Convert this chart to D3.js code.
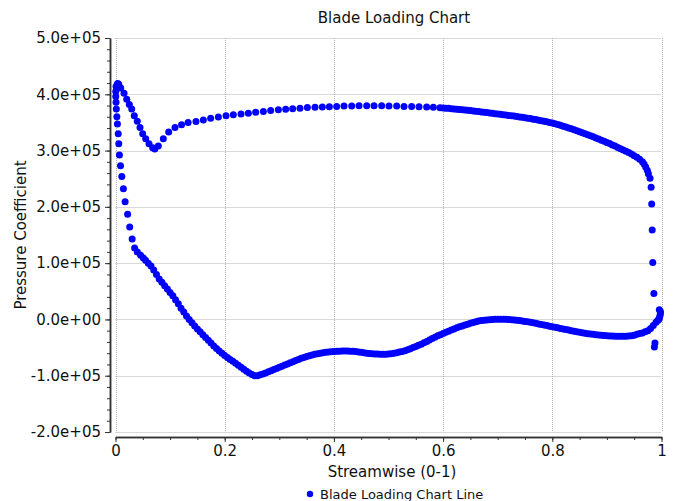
<!DOCTYPE html>
<html>
<head>
<meta charset="utf-8">
<script src="https://cdn.jsdelivr.net/npm/d3@7"></script>
<style>
  body { margin: 0; background: #fff; }
  svg { display: block; font-family: "DejaVu Sans", Verdana, sans-serif; }
</style>
</head>
<body>
<svg width="681" height="501"></svg>
<script>
// pressure values are in units of 1e5
// leading edge: peak and the column that drops down along x ~ 0
const leX = [0.003, 0.006, 0.004, 0.001, 0.0005, 0.0005, 0.001, 0.0015, 0.0025, 0.0035, 0.005, 0.006, 0.0072, 0.0092, 0.0116, 0.0145, 0.0176, 0.0222, 0.026, 0.0305, 0.035, 0.040, 0.046, 0.051, 0.055]
const leP = [4.17, 4.18, 4.19, 4.14, 4.05, 3.96, 3.86, 3.74, 3.60, 3.47, 3.30, 3.12, 2.92, 2.73, 2.54, 2.32, 2.09, 1.87, 1.64, 1.43, 1.27, 1.20, 1.14, 1.09, 1.05]

// upper curve, from the peak towards x ~ 0.6 (spaced dots)
const upX = [0.0095, 0.0156, 0.0205, 0.0253, 0.0297, 0.0344, 0.0399, 0.0449, 0.0498, 0.0553, 0.0614, 0.0681, 0.072, 0.0784, 0.0876, 0.0974, 0.109, 0.121, 0.133,
  0.1474, 0.1609, 0.1743, 0.1884, 0.2024, 0.2158, 0.2299, 0.2433, 0.2567, 0.2708, 0.2842, 0.2983, 0.3117, 0.3245, 0.3379, 0.3514, 0.3654, 0.3788, 0.3917,
  0.4051, 0.4185, 0.4326, 0.4460, 0.4601, 0.4735, 0.4875, 0.5009, 0.5150, 0.5284, 0.5424, 0.5559, 0.5699, 0.5821, 0.5943]
const upP = [4.11, 4.02, 3.91, 3.82, 3.74, 3.62, 3.52, 3.41, 3.30, 3.21, 3.12, 3.05, 3.03, 3.08, 3.21, 3.33, 3.41, 3.46, 3.50,
  3.515, 3.545, 3.575, 3.595, 3.62, 3.635, 3.65, 3.665, 3.68, 3.695, 3.71, 3.725, 3.733, 3.745, 3.75, 3.765, 3.768, 3.775, 3.78,
  3.785, 3.792, 3.792, 3.795, 3.795, 3.795, 3.795, 3.792, 3.792, 3.785, 3.785, 3.78, 3.775, 3.768, 3.76]

// upper curve, dense part towards the trailing edge
const upAftX = [0.600, 0.605, 0.610, 0.615, 0.620, 0.625, 0.630, 0.635, 0.640, 0.645, 0.650, 0.655, 0.660, 0.665, 0.670, 0.675, 0.680, 0.685, 0.690, 0.695,
  0.700, 0.705, 0.710, 0.715, 0.720, 0.725, 0.730, 0.735, 0.740, 0.745, 0.750, 0.755, 0.760, 0.765, 0.770, 0.775, 0.780, 0.785, 0.790, 0.795,
  0.800, 0.805, 0.810, 0.815, 0.820, 0.825, 0.830, 0.835, 0.840, 0.845, 0.850, 0.855, 0.860, 0.865, 0.870, 0.875, 0.880, 0.885, 0.890, 0.895,
  0.900, 0.905, 0.910, 0.915, 0.920, 0.925, 0.930, 0.935, 0.940, 0.945, 0.950, 0.955, 0.960, 0.965, 0.968, 0.971, 0.974, 0.976]
const upAftP = [3.757, 3.754, 3.75, 3.745, 3.74, 3.735, 3.73, 3.725, 3.72, 3.715, 3.71, 3.705, 3.70, 3.693, 3.686, 3.68, 3.675, 3.668, 3.662, 3.656,
  3.65, 3.644, 3.638, 3.632, 3.625, 3.618, 3.612, 3.605, 3.598, 3.59, 3.583, 3.576, 3.568, 3.558, 3.55, 3.54, 3.53, 3.52, 3.51, 3.50,
  3.49, 3.478, 3.463, 3.448, 3.433, 3.418, 3.403, 3.388, 3.37, 3.353, 3.335, 3.318, 3.30, 3.283, 3.265, 3.245, 3.225, 3.205, 3.185, 3.165,
  3.145, 3.125, 3.10, 3.08, 3.055, 3.033, 3.01, 2.99, 2.965, 2.94, 2.91, 2.88, 2.845, 2.80, 2.76, 2.71, 2.65, 2.59]

// trailing edge
const teX = [0.979, 0.981, 0.982, 0.983, 0.984, 0.986, 0.996, 0.998, 0.998, 0.997, 0.996, 0.993, 0.988, 0.987]
const teP = [2.51, 2.35, 2.05, 1.59, 1.01, 0.46, 0.17, 0.14, 0.10, 0.06, 0.02, -0.02, -0.42, -0.49]

// lower curve
const loX = [0.060, 0.065, 0.070, 0.075, 0.080, 0.085, 0.090, 0.095, 0.100, 0.105, 0.110, 0.115, 0.120, 0.125, 0.130, 0.135, 0.140, 0.145, 0.150, 0.155,
  0.160, 0.165, 0.170, 0.175, 0.180, 0.185, 0.190, 0.195, 0.200, 0.205, 0.210, 0.215, 0.220, 0.225, 0.230, 0.235, 0.240, 0.245, 0.250, 0.255,
  0.260, 0.265, 0.270, 0.275, 0.280, 0.285, 0.290, 0.295, 0.300, 0.305, 0.310, 0.315, 0.320, 0.325, 0.330, 0.335, 0.340, 0.345, 0.350, 0.355,
  0.360, 0.365, 0.370, 0.375, 0.380, 0.385, 0.390, 0.395, 0.400, 0.405, 0.410, 0.415, 0.420, 0.425, 0.430, 0.435, 0.440, 0.445, 0.450, 0.455,
  0.460, 0.465, 0.470, 0.475, 0.480, 0.485, 0.490, 0.495, 0.500, 0.505, 0.510, 0.515, 0.520, 0.525, 0.530, 0.535, 0.540, 0.545, 0.550, 0.555,
  0.560, 0.565, 0.570, 0.575, 0.580, 0.585, 0.590, 0.595, 0.600, 0.605, 0.610, 0.615, 0.620, 0.625, 0.630, 0.635, 0.640, 0.645, 0.650, 0.655,
  0.660, 0.665, 0.670, 0.675, 0.680, 0.685, 0.690, 0.695, 0.700, 0.705, 0.710, 0.715, 0.720, 0.725, 0.730, 0.735, 0.740, 0.745, 0.750, 0.755,
  0.760, 0.765, 0.770, 0.775, 0.780, 0.785, 0.790, 0.795, 0.800, 0.805, 0.810, 0.815, 0.820, 0.825, 0.830, 0.835, 0.840, 0.845, 0.850, 0.855,
  0.860, 0.865, 0.870, 0.875, 0.880, 0.885, 0.890, 0.895, 0.900, 0.905, 0.910, 0.915, 0.920, 0.925, 0.930, 0.935, 0.940, 0.945, 0.950, 0.955,
  0.960, 0.965, 0.970, 0.975, 0.980, 0.985, 0.990, 0.995]
const loP = [1.00, 0.95, 0.88, 0.80, 0.72, 0.66, 0.60, 0.54, 0.48, 0.42, 0.35, 0.28, 0.20, 0.13, 0.06, 0.00, -0.06, -0.115, -0.17, -0.22,
  -0.27, -0.32, -0.37, -0.42, -0.47, -0.515, -0.56, -0.60, -0.64, -0.675, -0.71, -0.745, -0.78, -0.815, -0.85, -0.885, -0.92, -0.95, -0.98, -1.00,
  -1.00, -0.985, -0.97, -0.95, -0.93, -0.91, -0.89, -0.87, -0.85, -0.83, -0.81, -0.79, -0.77, -0.75, -0.73, -0.71, -0.69, -0.675, -0.66, -0.645,
  -0.63, -0.62, -0.61, -0.60, -0.59, -0.585, -0.58, -0.575, -0.57, -0.567, -0.565, -0.562, -0.56, -0.562, -0.565, -0.567, -0.57, -0.578, -0.585, -0.593,
  -0.60, -0.605, -0.61, -0.613, -0.615, -0.618, -0.62, -0.618, -0.615, -0.608, -0.60, -0.59, -0.58, -0.568, -0.555, -0.538, -0.52, -0.50, -0.48, -0.46,
  -0.44, -0.415, -0.39, -0.365, -0.34, -0.315, -0.29, -0.27, -0.25, -0.23, -0.21, -0.19, -0.17, -0.15, -0.13, -0.115, -0.10, -0.085, -0.07, -0.055,
  -0.04, -0.03, -0.02, -0.015, -0.01, -0.005, 0.0, 0.003, 0.005, 0.005, 0.005, 0.003, 0.0, -0.005, -0.01, -0.015, -0.02, -0.028, -0.035, -0.043,
  -0.05, -0.06, -0.07, -0.08, -0.09, -0.10, -0.11, -0.12, -0.13, -0.14, -0.15, -0.16, -0.17, -0.18, -0.19, -0.20, -0.21, -0.22, -0.23, -0.238,
  -0.245, -0.253, -0.26, -0.265, -0.27, -0.275, -0.28, -0.285, -0.29, -0.293, -0.295, -0.298, -0.30, -0.30, -0.30, -0.298, -0.295, -0.288, -0.28, -0.265,
  -0.25, -0.24, -0.22, -0.20, -0.16, -0.11, -0.05, 0.0]

const xTicks = [0, 0.2, 0.4, 0.6, 0.8, 1]
const xTickLabels = ['0', '0.2', '0.4', '0.6', '0.8', '1']
const yTicks = [-2e5, -1e5, 0, 1e5, 2e5, 3e5, 4e5, 5e5]
const yTickLabels = ['-2.0e+05', '-1.0e+05', '0.0e+00', '1.0e+05', '2.0e+05', '3.0e+05', '4.0e+05', '5.0e+05']

const svg = d3.select('svg')

const margin = { top: 38, right: 19.5, bottom: 69, left: 115.5 }
const width = 681, height = 501
const x_scale = d3.scaleLinear().domain([0, 1]).range([margin.left, width - margin.right])
const y_scale = d3.scaleLinear().domain([-2e5, 5e5]).range([height - margin.bottom, margin.top])

const points = []
const addSeg = (xs, ps) => xs.forEach((v, i) => points.push({ x: v, p: ps[i] * 1e5 }))
addSeg(leX, leP)
addSeg(upX, upP)
addSeg(upAftX, upAftP)
addSeg(teX, teP)
addSeg(loX, loP)

// dotted grid
const grid = svg.append('g').attr('stroke', '#b0b0b0').attr('stroke-width', 1).attr('stroke-dasharray', '1,1')
grid.selectAll('.gx').data(xTicks).enter().append('line')
  .attr('x1', d => Math.round(x_scale(d)) + 0.5).attr('x2', d => Math.round(x_scale(d)) + 0.5)
  .attr('y1', y_scale(5e5)).attr('y2', y_scale(-2e5))
grid.selectAll('.gy').data(yTicks).enter().append('line')
  .attr('y1', d => Math.round(y_scale(d)) + 0.5).attr('y2', d => Math.round(y_scale(d)) + 0.5)
  .attr('x1', x_scale(0)).attr('x2', x_scale(1))

// y axis, shifted 5px left of the plot area
const yAxisX = 110
const yMinor = d3.range(-2e5, 5e5 + 1, 2e4)
svg.append('g').attr('transform', `translate(${yAxisX},0)`)
  .call(d3.axisLeft(y_scale).tickValues(yMinor).tickSize(3).tickSizeOuter(0).tickFormat(''))
svg.append('g').attr('class', 'yaxis').attr('transform', `translate(${yAxisX},0)`)
  .call(d3.axisLeft(y_scale).tickValues(yTicks).tickSize(5).tickSizeOuter(0).tickPadding(4)
    .tickFormat((d, i) => yTickLabels[i]))

// x axis, shifted 5px below the plot area
const xAxisY = 437
const xMinor = d3.range(0, 1.0001, 0.05)
svg.append('g').attr('transform', `translate(0,${xAxisY})`)
  .call(d3.axisBottom(x_scale).tickValues(xMinor).tickSize(3).tickSizeOuter(0).tickFormat(''))
svg.append('g').attr('class', 'xaxis').attr('transform', `translate(0,${xAxisY})`)
  .call(d3.axisBottom(x_scale).tickValues(xTicks).tickSize(5).tickSizeOuter(0).tickPadding(3)
    .tickFormat((d, i) => xTickLabels[i]))

svg.selectAll('.domain').attr('stroke', '#333').attr('stroke-width', 1.5)
svg.selectAll('.tick line').attr('stroke', '#333')
svg.selectAll('.tick text').attr('font-size', 15).attr('fill', '#111')
  .attr('font-family', '"DejaVu Sans", Verdana, sans-serif')

// points
svg.append('g').selectAll('circle').data(points).enter().append('circle')
  .attr('cx', d => x_scale(d.x))
  .attr('cy', d => y_scale(d.p))
  .attr('r', 3.5)
  .attr('fill', '#0000ff')

// titles
svg.append('text').attr('x', 394).attr('y', 23).attr('text-anchor', 'middle')
  .attr('font-size', 15).attr('fill', '#111').text('Blade Loading Chart')
svg.append('text').attr('x', 392).attr('y', 477).attr('text-anchor', 'middle')
  .attr('font-size', 15).attr('fill', '#111').text('Streamwise (0-1)')
svg.append('text').attr('transform', `translate(26,${(margin.top + height - margin.bottom) / 2}) rotate(-90)`)
  .attr('text-anchor', 'middle').attr('font-size', 15).attr('fill', '#111').text('Pressure Coefficient')

// legend
const legend = svg.append('g')
legend.append('circle').attr('cx', 310).attr('cy', 494).attr('r', 3.2).attr('fill', '#0000ff')
legend.append('text').attr('x', 320).attr('y', 499).attr('font-size', 13).attr('fill', '#111')
  .text('Blade Loading Chart Line')
</script>
</body>
</html>
